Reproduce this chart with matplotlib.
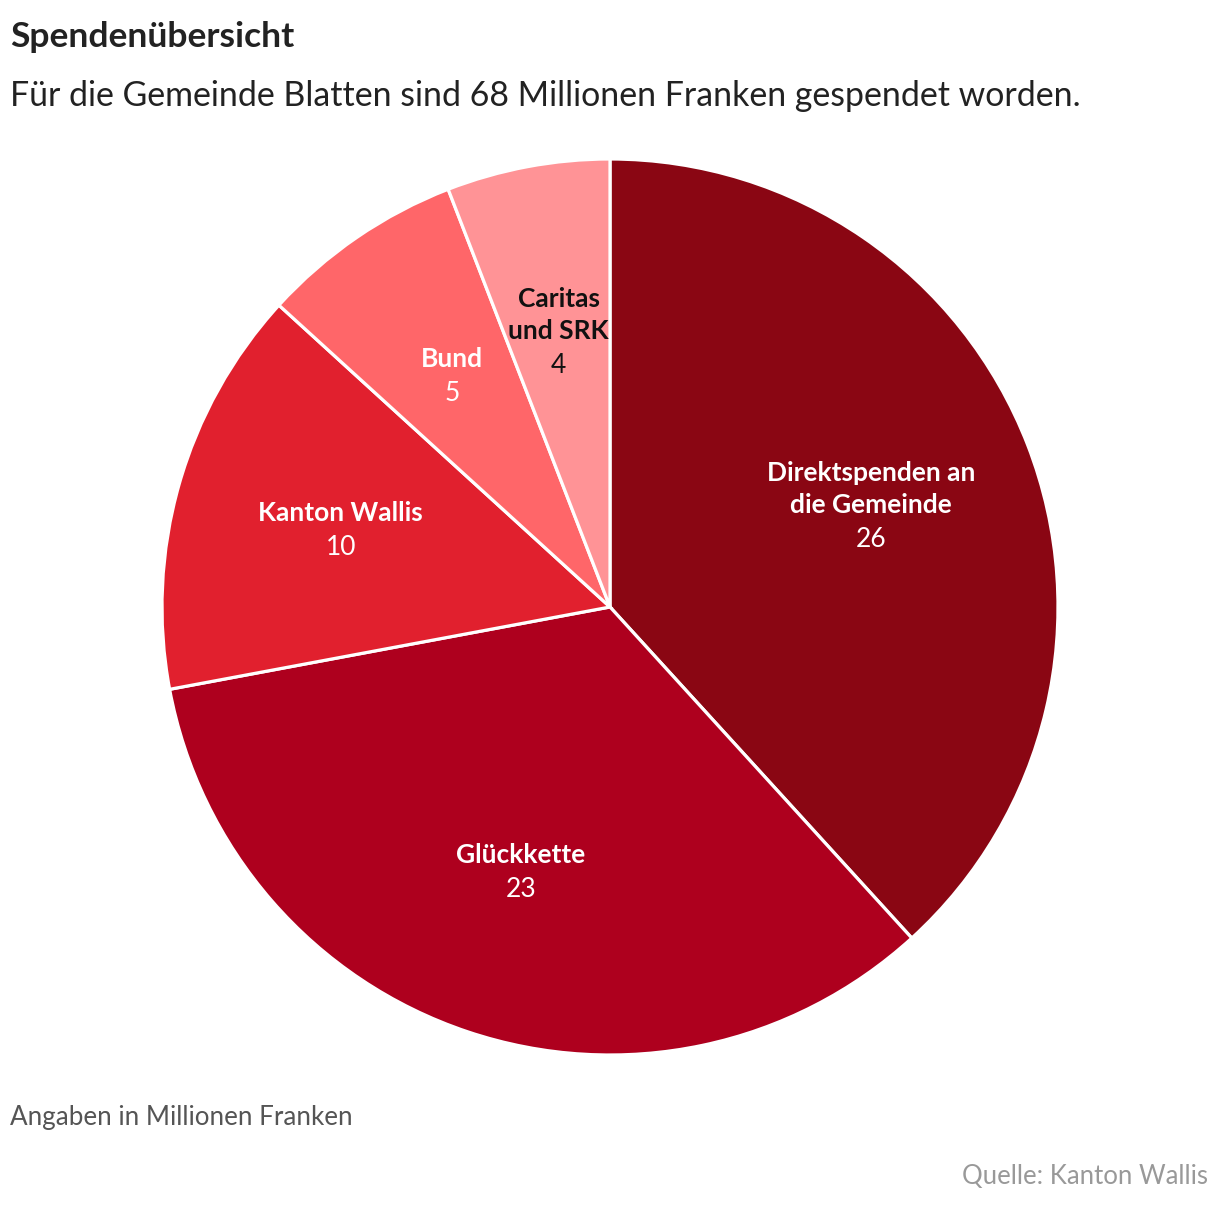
import matplotlib.pyplot as plt
import numpy as np

plt.rcParams['font.family'] = ['Lato', 'DejaVu Sans']

# Daten
categories = ['Direktspenden an\ndie Gemeinde', 'Glückkette', 'Kanton Wallis', 'Bund', 'Caritas\nund SRK']
values = [26, 23, 10, 5, 4]
colors = ['#8A0613', '#AE001E', '#E1202E', '#FF6669', '#FF9396']
text_colors = ['white', 'white', 'white', 'white', '#111111']

W, H = 1220, 1208
fig = plt.figure(figsize=(W / 100, H / 100), dpi=100)
px = 0.72  # Pixel -> Punkte

# Kreis: Mittelpunkt (610, 607) px, Radius 448 px
cx, cy, R = 610, 607, 448
ax = fig.add_axes([(cx - R) / W, (H - cy - R) / H, 2 * R / W, 2 * R / H])
wedges, _ = ax.pie(values, colors=colors, startangle=90, counterclock=False,
                   radius=1.0, wedgeprops=dict(edgecolor='white', linewidth=2.3))
ax.set_xlim(-1, 1)
ax.set_ylim(-1, 1)
ax.set_aspect('equal')
ax.axis('off')

# Beschriftungen in den Segmenten
for w, name, val, tc in zip(wedges, categories, values, text_colors):
    ang = np.deg2rad((w.theta1 + w.theta2) / 2)
    r = 0.625
    x, y = r * np.cos(ang), r * np.sin(ang)
    n = name.count('\n') + 1
    ax.annotate(name, (x, y), xytext=(0, 17 * px), textcoords='offset points',
                ha='center', va='center', fontsize=19, fontweight='bold',
                color=tc, linespacing=1.4)
    ax.annotate(str(val), (x, y), xytext=(0, -(17 + 17 * (n - 1)) * px),
                textcoords='offset points',
                ha='center', va='center', fontsize=19, fontweight='normal',
                color=tc)

# Titel
fig.text(10 / W, 1 - 37 / H, 'Spendenübersicht', ha='left', va='center',
         fontsize=25.5, fontweight='bold', color='#222222')
fig.text(10 / W, 1 - 96 / H, 'Für die Gemeinde Blatten sind 68 Millionen Franken gespendet worden.',
         ha='left', va='center', fontsize=24.4, color='#222222')

# Fussnoten
fig.text(10 / W, 1 - 1117 / H, 'Angaben in Millionen Franken', ha='left', va='center',
         fontsize=18.7, color='#555555')
fig.text(1208 / W, 1 - 1177 / H, 'Quelle: Kanton Wallis', ha='right', va='center',
         fontsize=18.5, color='#999999')

fig.savefig('out.png', dpi=100)
